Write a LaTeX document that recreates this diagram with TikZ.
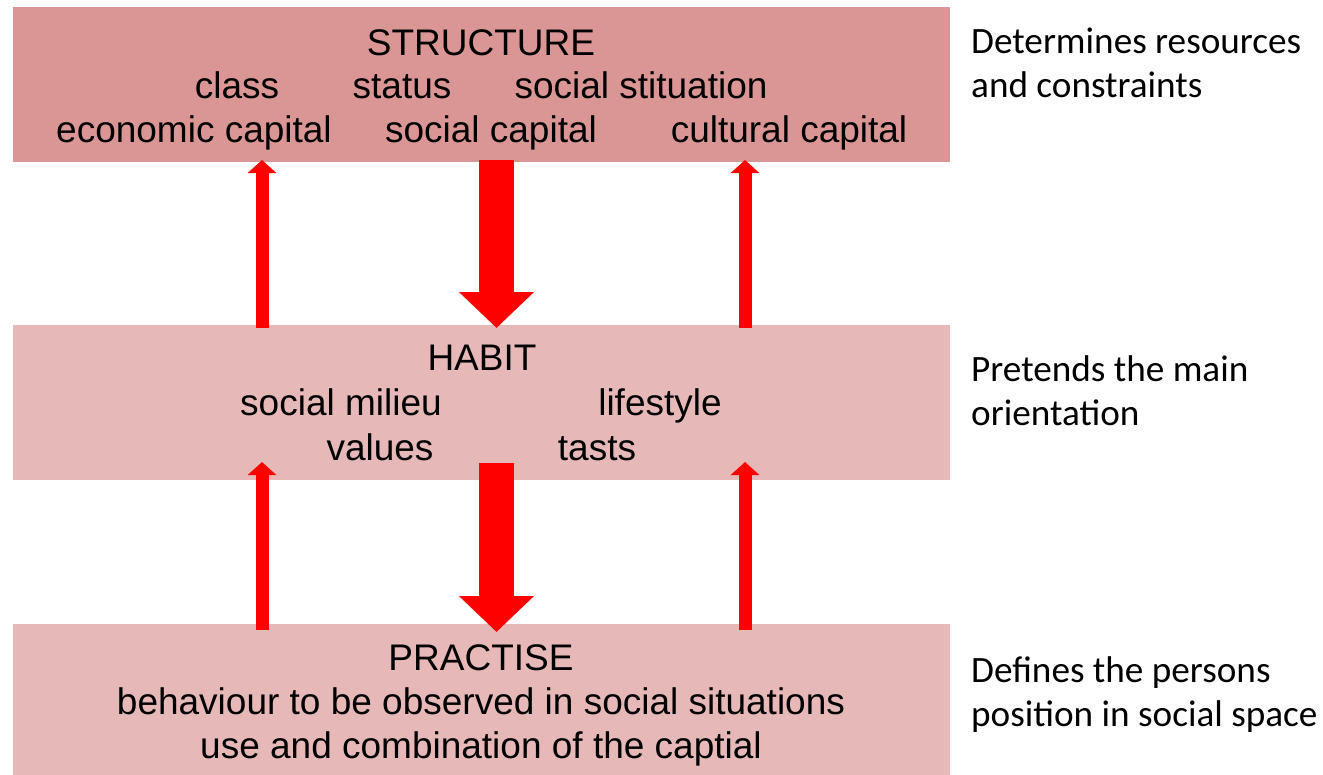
\documentclass[tikz,border=0pt]{standalone}
\usepackage{fontspec}
\setmainfont{Liberation Sans}
\newfontfamily\calib{Carlito}
\usetikzlibrary{arrows.meta}
\definecolor{boxdark}{HTML}{D99694}
\definecolor{boxlight}{HTML}{E6B9B8}
\definecolor{arrowred}{HTML}{FF0000}
\tikzset{
  box/.style={minimum width=937pt, minimum height=155pt, inner sep=0pt, outer sep=0pt, anchor=north west},
  lbl/.style={anchor=base, inner sep=0pt, font=\fontsize{37}{44}\selectfont},
  side/.style={anchor=base west, inner sep=0pt, font=\calib\fontsize{37.2}{44}\selectfont},
  thinarrow/.style={draw=arrowred, line width=13pt, -{Triangle[width=28pt,length=13pt]}},
  bigarrow/.style={draw=arrowred, line width=35pt, -{Triangle[width=73pt,length=36pt]}}
}
\begin{document}
\begin{tikzpicture}[x=1pt,y=-1pt]
\useasboundingbox (0,0) rectangle (1323,774);
\node[box, fill=boxdark] (s) at (13,7) {};
\node[box, fill=boxlight] (h) at (13,325) {};
\node[box, fill=boxlight, minimum height=152pt] (p) at (13,624) {};
% text in boxes
\node[lbl] (st) at (481,55) {STRUCTURE};
\node[lbl] (s1) at (237,98) {class};
\node[lbl] (s2) at (402,98) {status};
\node[lbl] (s3) at (641,98) {social stituation};
\node[lbl] (s4) at (194,142) {economic capital};
\node[lbl] (s5) at (491,142) {social capital};
\node[lbl] (s6) at (789,142) {cultural capital};
\node[lbl] (ht) at (482,370) {HABIT};
\node[lbl] (h1) at (341,415) {social milieu};
\node[lbl] (h2) at (660,415) {lifestyle};
\node[lbl] (h3) at (380,460) {values};
\node[lbl] (h4) at (597,460) {tasts};
\node[lbl] (pt) at (481,670) {PRACTISE};
\node[lbl] (p1) at (481,714) {behaviour to be observed in social situations};
\node[lbl] (p2) at (481,758) {use and combination of the captial};
% side notes
\node[side] (r1) at (971,53) {Determines resources};
\node[side] (r2) at (971,97) {and constraints};
\node[side] (r3) at (971,381) {Pretends the main};
\node[side] (r4) at (971,425) {orientation};
\node[side] (r5) at (971,682) {Defines the persons};
\node[side] (r6) at (971,726) {position in social space};
% arrow columns
\coordinate (cl) at (262,0);
\coordinate (cm) at (496.5,0);
\coordinate (cr) at (745,0);
% arrows between structure and habit (yshift is in page direction: + is up)
\draw[thinarrow] ([yshift=-3pt]h.north -| cl) -- ([yshift=2pt]s.south -| cl);
\draw[thinarrow] ([yshift=-3pt]h.north -| cr) -- ([yshift=2pt]s.south -| cr);
\draw[bigarrow] ([yshift=2pt]s.south -| cm) -- ([yshift=-3pt]h.north -| cm);
% arrows between habit and practise
\draw[thinarrow] ([yshift=-6pt]p.north -| cl) -- ([yshift=18pt]h.south -| cl);
\draw[thinarrow] ([yshift=-6pt]p.north -| cr) -- ([yshift=18pt]h.south -| cr);
\draw[bigarrow] ([yshift=17pt]h.south -| cm) -- ([yshift=-8pt]p.north -| cm);
\end{tikzpicture}
\end{document}
